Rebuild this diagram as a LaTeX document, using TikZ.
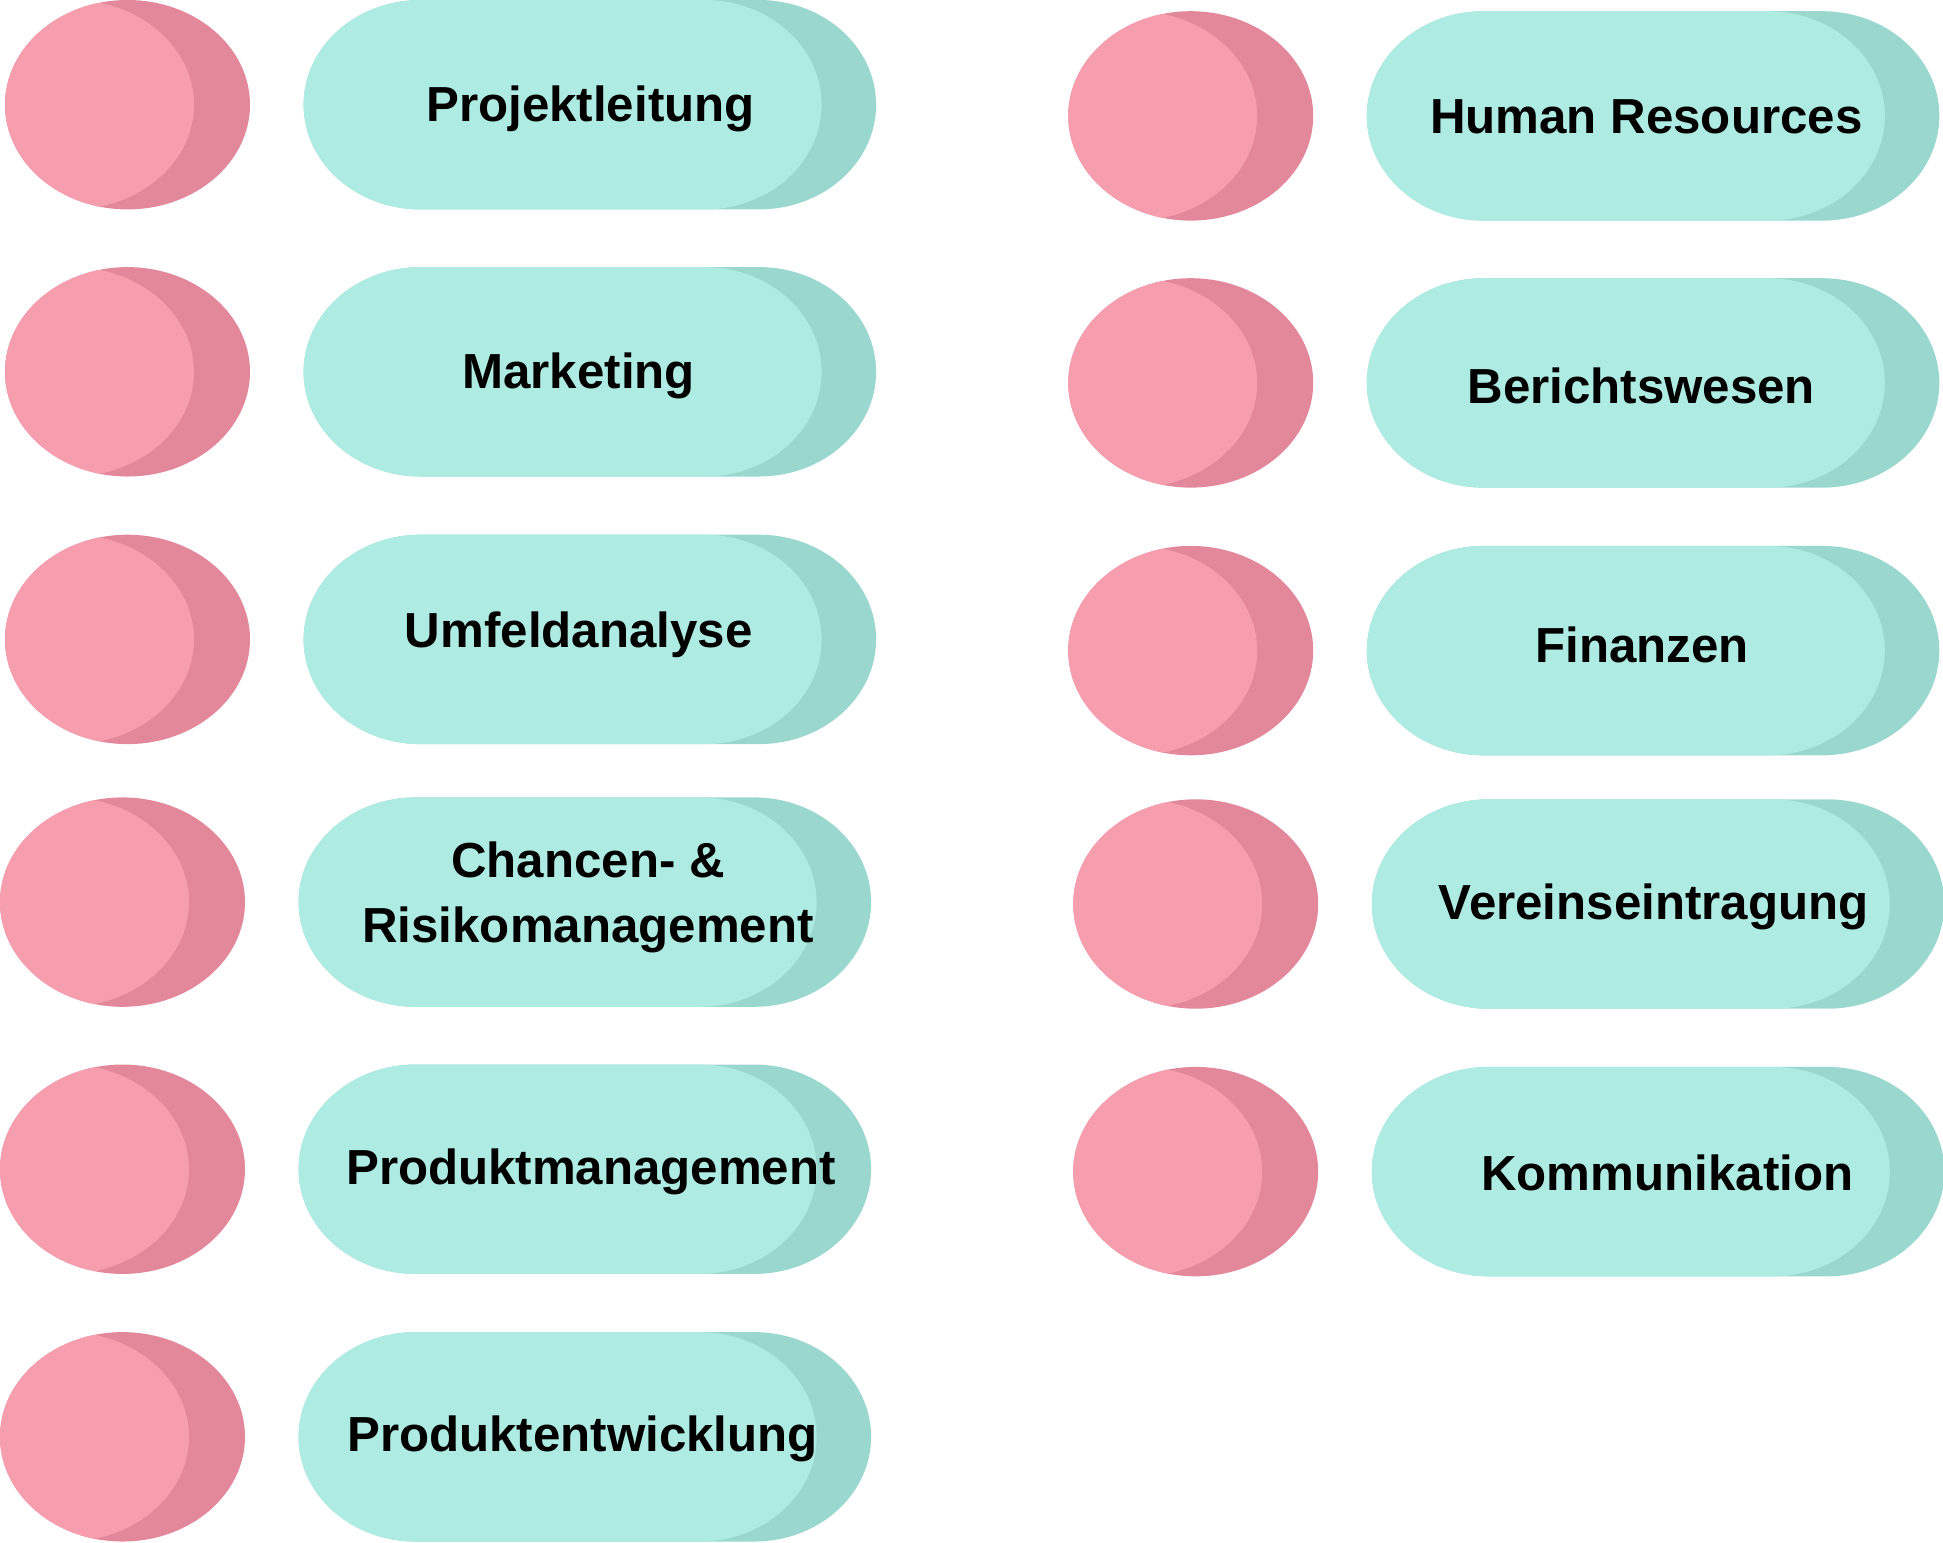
\documentclass[tikz,border=0pt]{standalone}
\usepackage{fontspec}
\setmainfont{Liberation Sans}
\definecolor{rosa}{HTML}{F69DAE}
\definecolor{rosaesc}{HTML}{E3889A}
\definecolor{turq}{HTML}{AEEBE2}
\definecolor{turqesc}{HTML}{9AD8CF}
\begin{document}
\begin{tikzpicture}[x=0.01cm, y=0.01cm,
    rotulo/.style={font=\bfseries\fontsize{14}{18.5}\selectfont, align=center, inner sep=0pt}]
\useasboundingbox (0,0) rectangle (1943,-1542);
% Linhas: x0 / y centro / x texto / y texto / nome / texto
\foreach \xo/\yc/\xt/\yt/\nm/\txt in {
    5/-104.7/590.5/-109/proj/Projektleitung,
    5/-371.8/578.7/-376/mkt/Marketing,
    5/-639.4/578.7/-635/umf/Umfeldanalyse,
    0/-902.1/588/-897/risk/{Chancen- \&\\Risikomanagement},
    0/-1169.2/591/-1172/pmgmt/Produktmanagement,
    0/-1436.8/582.4/-1438.5/pentw/Produktentwicklung,
    1068.2/-115.9/1646.3/-116.5/hr/Human Resources,
    1068.2/-382.9/1641.3/-385.5/ber/Berichtswesen,
    1068.2/-650.6/1642/-645/fin/Finanzen,
    1073.2/-904/1653.7/-906.5/ver/Vereinseintragung,
    1073.2/-1171.6/1667.3/-1172.5/komm/Kommunikation}
{
  % ponto rosa
  \fill[rosaesc] (\xo+122.5,\yc) ellipse[x radius=122.5, y radius=104.7];
  \begin{scope}
    \clip (\xo+122.5,\yc) ellipse[x radius=122.5, y radius=104.7];
    \fill[rosa] (\xo+66.5,\yc) ellipse[x radius=122.5, y radius=104.7];
  \end{scope}
  % pilula turquesa (sombra e frente)
  \fill[turqesc] (\xo+415.6,\yc+104.7) -- (\xo+754.1,\yc+104.7)
    arc[start angle=90, end angle=-90, x radius=117, y radius=104.7]
    -- (\xo+415.6,\yc-104.7)
    arc[start angle=270, end angle=90, x radius=117, y radius=104.7] -- cycle;
  \fill[turq] (\xo+415.6,\yc+104.7) -- (\xo+699.6,\yc+104.7)
    arc[start angle=90, end angle=-90, x radius=117, y radius=104.7]
    -- (\xo+415.6,\yc-104.7)
    arc[start angle=270, end angle=90, x radius=117, y radius=104.7] -- cycle;
  \node[rotulo] (\nm) at (\xt,\yt) {\txt};
}
\end{tikzpicture}
\end{document}
